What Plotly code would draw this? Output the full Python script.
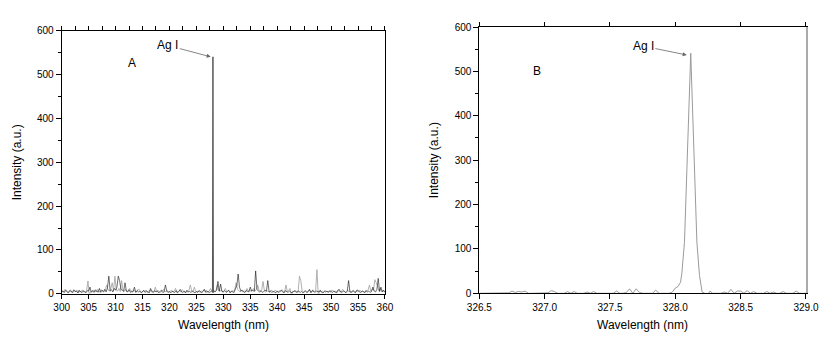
import numpy as np
import plotly.graph_objects as go

# ---------------- Panel A data (300-360 nm survey spectrum) ----------------
a_black_x0, a_black_step = 300.0, 0.25
a_black = [
    4, 6, 3, 8, 5, 2, 7, 4, 3, 9, 5, 6, 2, 8, 4, 3, 6, 5, 2, 7,
    6, 15, 4, 7, 3, 9, 5, 4, 12, 3, 8, 5, 10, 4, 14, 40, 6, 9, 4, 12,
    8, 15, 40, 30, 10, 8, 5, 25, 6, 4, 9, 3, 6, 5, 15, 3, 7, 4, 6, 2,
    5, 8, 3, 6, 4, 2, 12, 5, 3, 7, 4, 6, 2, 5, 8, 3, 4, 20, 6, 3,
    5, 2, 6, 4, 3, 7, 2, 5, 10, 4, 3, 6, 2, 8, 4, 5, 3, 6, 4, 2,
    5, 3, 7, 4, 2, 6, 10, 3, 5, 4, 3, 6, 4, 6, 5, 8, 28, 6, 22, 5,
    4, 7, 3, 5, 8, 2, 6, 4, 3, 12, 18, 45, 15, 6, 8, 4, 3, 7, 5, 4,
    15, 6, 8, 5, 52, 10, 6, 4, 7, 3, 5, 8, 6, 30, 4, 6, 3, 5, 4, 2,
    6, 3, 5, 8, 4, 2, 7, 5, 3, 6, 4, 2, 5, 7, 3, 4, 6, 3, 5, 2,
    4, 6, 3, 5, 10, 2, 7, 4, 3, 6, 5, 4, 8, 3, 2, 5, 4, 6, 3, 7,
    5, 3, 6, 4, 2, 8, 10, 4, 3, 6, 5, 2, 6, 30, 4, 3, 7, 5, 2, 8,
    8, 4, 3, 6, 5, 2, 7, 4, 6, 3, 5, 15, 6, 4, 10, 35, 5, 15, 4, 8, 3,
]
a_gray_x0, a_gray_step = 300.125, 0.25
a_gray = [
    8, 3, 10, 5, 2, 6, 9, 4, 3, 7, 5, 8, 2, 6, 4, 9, 3, 5, 7, 29,
    -4, 6, 3, 8, 5, 4, 10, 3, 6, 9, 5, 4, 12, 20, 8, 6, 12, 25, 7, 40,
    8, 6, 12, 5, 30, 8, 6, 10, 4, 7, 12, 5, 3, 8, 6, 4, 9, 10, 5, 3,
    6, 4, 8, 3, 5, 9, 4, 6, 3, 15, 5, 8, 4, 3, 6, 10, 5, 4, 7, 3,
    5, 8, 4, 6, 12, 3, 5, 7, 4, 9, 6, 3, 5, 4, 8, 20, 6, 4, 15, 5,
    4, 7, 3, 6, 5, 9, 4, 8, 3, 6, 12, 5, 8, 4, 6, 20, 7, 5, 9, 4,
    6, 12, 4, 8, 5, 3, 7, 6, 9, 25, 10, 6, 4, 8, 5, 7, 4, 12, 6, 9,
    5, 8, 12, 6, 10, 20, 8, 5, 9, 28, 6, 4, 7, 5, 3, 8, 6, 4, 8, 5,
    4, 7, 5, 9, 6, 3, 20, 5, 8, 12, -5, 6, 4, 7, 5, 3, 40, 30, 6, 4,
    7, 5, 3, 8, 6, 4, 9, 5, 6, 55, -5, 7, 4, 6, 3, 8, 5, 4, 6, 3,
    8, 5, 4, 6, 3, 7, 5, 4, 10, 6, 3, 5, 8, 4, 6, 3, 7, 5, 4, 6,
    5, 8, 4, 6, 3, 7, 5, 9, 20, 6, 10, 8, 32, 25, 18, 6, 12, 5, 8, 4,
]
a_peak_x = [327.98, 328.07, 328.16]
a_peak_y = [3, 541, 2]

a_black_x = [round(a_black_x0 + a_black_step * i, 3) for i in range(len(a_black))]
a_gray_x = [round(a_gray_x0 + a_gray_step * i, 3) for i in range(len(a_gray))]

# ---------------- Panel B data (Ag I 328.07 nm line, high resolution) ----------------
b_left = [
    0, 0, 0, 0, 0, 0, 0, 0, 0, 1, 5, 2, 4, 3, 5, 0, 0, 0, 0, 0,
    0, 1, 6, 4, 0, 0, 0, 4, 0, 4, 0, 0, 0, 3, 0, 4, 0, 0, 0, 0,
    0, 0, 5, 0, 0, 2, 10, 0, 10, 2, 0, 0, 0, 0, 7, 0, 0, 0, 0, 2,
]
b_peak_x = [328.0, 328.02, 328.04, 328.05, 328.07, 328.118, 328.165, 328.185,
            328.205, 328.225, 328.245, 328.265, 328.285]
b_peak_y = [12, 15, 25, 45, 115, 541, 115, 40, 3, 0, -5, 5, 0]
b_right = [
    0, 0, 0, 3, 0, 9, 0, 5, 5, 0, 6, 0, 4, 0, 0, 0, 4, 0, 3, 0,
    0, 4, 0, 0, 0, 5, 0, 0, 0,
]
b_left_x = [round(326.5 + 0.025 * k, 3) for k in range(len(b_left))]
b_right_x = [round(328.3 + 0.025 * k, 3) for k in range(len(b_right))]
b_x = b_left_x + b_peak_x + b_right_x
b_y = b_left + b_peak_y + b_right

a_xrange = [300, 360]
b_xrange = [326.5, 329.0]
y_range = [0, 600]

FONT = "Liberation Sans, Arial, sans-serif"

fig = go.Figure()
fig.add_trace(go.Scatter(x=a_gray_x, y=a_gray, mode="lines",
                         line=dict(color="#a8a8a8", width=0.9),
                         xaxis="x", yaxis="y", showlegend=False, hoverinfo="skip"))
fig.add_trace(go.Scatter(x=a_black_x, y=a_black, mode="lines",
                         line=dict(color="#111111", width=0.6),
                         xaxis="x", yaxis="y", showlegend=False, hoverinfo="skip"))
fig.add_trace(go.Scatter(x=a_peak_x, y=a_peak_y, mode="lines",
                         line=dict(color="#555555", width=1),
                         xaxis="x", yaxis="y", showlegend=False, hoverinfo="skip"))
fig.add_trace(go.Scatter(x=b_x, y=b_y, mode="lines",
                         line=dict(color="#9a9a9a", width=1),
                         xaxis="x2", yaxis="y2", showlegend=False, hoverinfo="skip"))
# invisible helpers so that overlay axes (top ticks / right frame) get drawn
fig.add_trace(go.Scatter(x=a_xrange, y=y_range, mode="markers",
                         marker=dict(opacity=0), xaxis="x3", yaxis="y",
                         showlegend=False, hoverinfo="skip"))
fig.add_trace(go.Scatter(x=b_xrange, y=y_range, mode="markers",
                         marker=dict(opacity=0), xaxis="x4", yaxis="y2",
                         showlegend=False, hoverinfo="skip"))
fig.add_trace(go.Scatter(x=b_xrange, y=y_range, mode="markers",
                         marker=dict(opacity=0), xaxis="x2", yaxis="y4",
                         showlegend=False, hoverinfo="skip"))

tickfont = dict(family=FONT, size=10, color="black")
common = dict(showgrid=False, zeroline=False, showline=True, linecolor="black",
              linewidth=1, ticks="outside", tickcolor="black", tickwidth=1,
              tickfont=tickfont, automargin=False)
overlay_common = dict(showgrid=False, zeroline=False, automargin=False,
                      showticklabels=False)

xA = [0.0746, 0.4655]
xB = [0.5796, 0.9746]
yA = [0.1412, 0.9094]
yB = [0.1424, 0.9210]

fig.update_layout(
    width=827, height=342,
    margin=dict(l=0, r=0, t=0, b=0, autoexpand=False),
    paper_bgcolor="white", plot_bgcolor="white",
    font=dict(family=FONT, size=12, color="black"),
    xaxis=dict(domain=xA, anchor="y", range=a_xrange, dtick=5, tick0=300,
               ticklen=4, mirror=True, **common),
    yaxis=dict(domain=yA, anchor="x", range=y_range, dtick=100, tick0=0,
               ticklen=5, mirror=True,
               minor=dict(dtick=50, ticks="outside", ticklen=3, tickcolor="black"),
               **common),
    xaxis3=dict(overlaying="x", anchor="y", side="top", range=a_xrange,
                dtick=2.5, tick0=300, ticks="outside", ticklen=4,
                tickcolor="black", showline=False, **overlay_common),
    xaxis2=dict(domain=xB, anchor="y2", range=b_xrange, dtick=0.5,
                tick0=326.5, tickformat=".1f", ticklen=5, mirror=True,
                **common),
    yaxis2=dict(domain=yB, anchor="x2", range=y_range, dtick=100, tick0=0,
                ticklen=5, mirror=False,
                minor=dict(dtick=50, ticks="outside", ticklen=3, tickcolor="black"),
                **common),
    xaxis4=dict(overlaying="x2", anchor="y2", side="top", range=b_xrange,
                dtick=0.5, tick0=326.5, ticks="outside", ticklen=4,
                tickcolor="black", showline=False, **overlay_common),
    yaxis4=dict(overlaying="y2", anchor="x2", side="right", range=y_range,
                ticks="", showline=True, linecolor="#aaaaaa", linewidth=2,
                **overlay_common),
)

ann = []
ann.append(dict(text="Wavelength (nm)", xref="paper", yref="paper",
                x=sum(xA) / 2, y=(342 - 325) / 342, showarrow=False,
                font=dict(size=12), xanchor="center", yanchor="middle"))
ann.append(dict(text="Wavelength (nm)", xref="paper", yref="paper",
                x=sum(xB) / 2, y=(342 - 325) / 342, showarrow=False,
                font=dict(size=12), xanchor="center", yanchor="middle"))
ann.append(dict(text="Intensity (a.u.)", xref="paper", yref="paper",
                x=17 / 827, y=sum(yA) / 2, textangle=-90, showarrow=False,
                font=dict(size=12), xanchor="center", yanchor="middle"))
ann.append(dict(text="Intensity (a.u.)", xref="paper", yref="paper",
                x=434 / 827, y=sum(yB) / 2, textangle=-90, showarrow=False,
                font=dict(size=12), xanchor="center", yanchor="middle"))
ann.append(dict(text="A", xref="x", yref="y", x=313.0, y=528, showarrow=False,
                font=dict(size=12)))
ann.append(dict(text="B", xref="x2", yref="y2", x=326.944, y=501, showarrow=False,
                font=dict(size=12)))
ann.append(dict(text="Ag I", xref="x", yref="y", x=327.65, y=541,
                axref="x", ayref="y", ax=319.7, ay=567, showarrow=True,
                arrowhead=2, arrowsize=1, arrowwidth=0.8, arrowcolor="#666666",
                font=dict(size=12)))
ann.append(dict(text="Ag I", xref="x2", yref="y2", x=328.087, y=537,
                axref="x2", ayref="y2", ax=327.755, ay=557, showarrow=True,
                arrowhead=2, arrowsize=1, arrowwidth=0.8, arrowcolor="#666666",
                font=dict(size=12)))
fig.update_layout(annotations=ann)

fig.write_html("out.html",
               config={"displayModeBar": False},
               post_script="document.body.style.margin='0';"
                           "document.body.style.padding='0';"
                           "document.body.style.overflow='hidden';")
